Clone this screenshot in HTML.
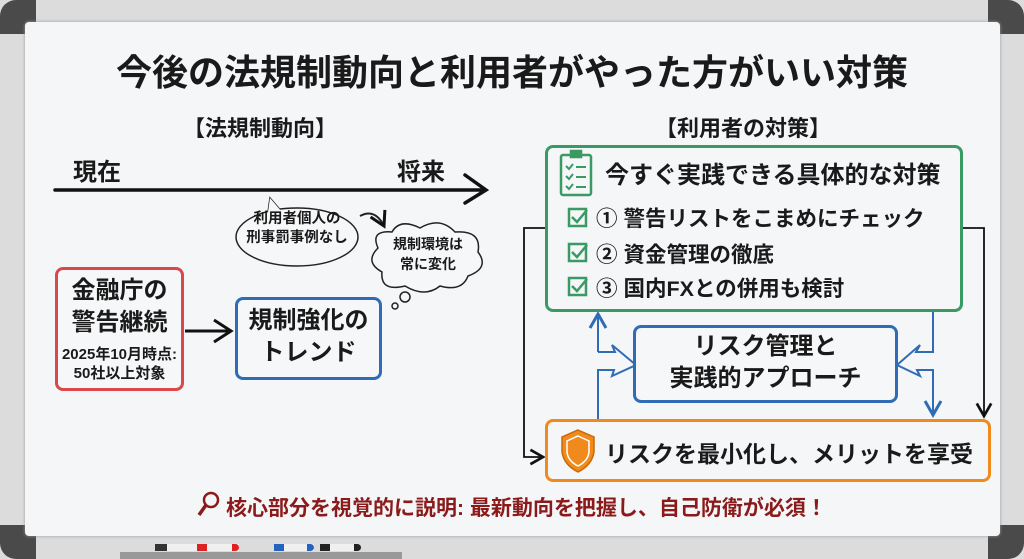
<!DOCTYPE html>
<html><head><meta charset="utf-8"><style>
*{margin:0;padding:0;box-sizing:border-box}
body{width:1024px;height:559px;overflow:hidden;background:#dcdcdc;font-family:"Liberation Sans","Noto Sans CJK JP",sans-serif;position:relative;font-weight:bold;color:#1a1a1a}
.a{position:absolute;white-space:nowrap}
.box{position:absolute;border-radius:8px;background:#f6f7f8}
</style></head><body>
<div class="a" style="left:0;top:0;width:36px;height:34px;background:#4a4a4a;border-radius:16px 0 0 0"></div>
<div class="a" style="right:0;top:0;width:36px;height:34px;background:#4a4a4a;border-radius:0 16px 0 0"></div>
<div class="a" style="left:0;bottom:0;width:36px;height:34px;background:#4a4a4a;border-radius:0 0 0 16px"></div>
<div class="a" style="right:0;bottom:0;width:36px;height:34px;background:#4a4a4a;border-radius:0 0 16px 0"></div>
<div class="a" style="left:25px;top:22px;width:975px;height:514px;background:#f4f6f8;border-radius:4px;box-shadow:0 0 3px #999"></div>
<div class="a" style="left:120px;top:552px;width:282px;height:7px;background:#999"></div>
<div class="a" style="left:155px;top:544px;width:80px;height:7px;background:#f0f0f0;border-radius:3px"></div>
<div class="a" style="left:155px;top:544px;width:12px;height:7px;background:#333"></div>
<div class="a" style="left:197px;top:544px;width:42px;height:7px;background:#f0f0f0"></div>
<div class="a" style="left:197px;top:544px;width:10px;height:7px;background:#d22"></div>
<div class="a" style="left:232px;top:544px;width:7px;height:7px;background:#d22;border-radius:0 4px 4px 0"></div>
<div class="a" style="left:274px;top:544px;width:40px;height:7px;background:#f0f0f0"></div>
<div class="a" style="left:274px;top:544px;width:10px;height:7px;background:#2563c0"></div>
<div class="a" style="left:307px;top:544px;width:7px;height:7px;background:#2563c0;border-radius:0 4px 4px 0"></div>
<div class="a" style="left:320px;top:544px;width:40px;height:7px;background:#f0f0f0"></div>
<div class="a" style="left:320px;top:544px;width:10px;height:7px;background:#222"></div>
<div class="a" style="left:354px;top:544px;width:7px;height:7px;background:#222;border-radius:0 4px 4px 0"></div>

<div class="a" style="left:0;width:1024px;top:44px;text-align:center;font-size:36px">今後の法規制動向と利用者がやった方がいい対策</div>
<div class="a" style="left:183px;top:111px;font-size:22px">【法規制動向】</div>
<div class="a" style="left:655px;top:111px;font-size:22px">【利用者の対策】</div>
<div class="a" style="left:73px;top:152px;font-size:24px">現在</div>
<div class="a" style="left:397px;top:152px;font-size:24px">将来</div>

<svg class="a" style="left:0;top:0" width="1024" height="559">
<defs>
<marker id="k" markerWidth="10" markerHeight="10" refX="8" refY="5" orient="auto"><path d="M1 1L8 5L1 9" fill="none" stroke="#111" stroke-width="1.5"/></marker>
<marker id="b" markerWidth="10" markerHeight="10" refX="8" refY="5" orient="auto"><path d="M1 1L8 5L1 9" fill="none" stroke="#2f6cb5" stroke-width="1.5"/></marker>
</defs>
<path d="M55 190L484 190M465 175L486 190L465 203" fill="none" stroke="#111" stroke-width="3.5" stroke-linecap="round"/>
<path d="M185 331L228 331M214 320L231 331L214 342" fill="none" stroke="#111" stroke-width="3"/>
<path d="M268 212L270 198L282 212" fill="#f6f7f8" stroke="#222" stroke-width="1.5"/>
<ellipse cx="297" cy="237" rx="61" ry="29" fill="#f6f7f8" stroke="#222" stroke-width="1.5"/>
<path d="M268 212L270 198L282 212" fill="#f6f7f8" stroke="none"/>
<path d="M360 216Q375 208 384 226" fill="none" stroke="#222" stroke-width="2" marker-end="url(#k)"/>
<path d="M378 248Q370 230 392 232Q400 218 420 228Q440 216 455 232Q482 230 478 252Q490 268 468 276Q462 292 440 286Q425 298 405 286Q380 292 382 272Q364 262 378 248Z" fill="#f6f7f8" stroke="#222" stroke-width="1.5"/>
<circle cx="405" cy="297" r="5" fill="none" stroke="#222" stroke-width="1.5"/>
<circle cx="395" cy="306" r="3" fill="none" stroke="#222" stroke-width="1.5"/>
<path d="M545 228L524 228L524 457L543 457" fill="none" stroke="#111" stroke-width="1.8" marker-end="url(#k)"/>
<path d="M962 228L984 228L984 416" fill="none" stroke="#111" stroke-width="1.8" marker-end="url(#k)"/>
<g fill="none" stroke="#2f6cb5" stroke-width="2">
<path d="M598 352L598 314" marker-end="url(#b)"/>
<path d="M598 352L615 352L612 345L636 365L612 376L614 370L598 370L598 419"/>
<path d="M933 311L933 352L916 352L920 345L897 365L920 376L917 370L933 370L933 415" marker-end="url(#b)"/>
</g>
<g transform="translate(561,151)" fill="none" stroke="#3a9a63" stroke-width="2.5">
<rect x="0" y="4" width="30" height="40" rx="2"/>
<rect x="10" y="0" width="10" height="6" fill="#3a9a63"/>
<path d="M5 15l3 3 4-5M5 25l3 3 4-5M5 35l3 3 4-5M15 16h10M15 26h10M15 36h10" stroke-width="2"/>
</g>
<g fill="none" stroke="#3a9a63" stroke-width="2.5">
<rect x="569" y="209" width="17" height="17"/><path d="M572 217l5 5 10-12"/>
<rect x="569" y="244" width="17" height="17"/><path d="M572 252l5 5 10-12"/>
<rect x="569" y="278" width="17" height="17"/><path d="M572 286l5 5 10-12"/>
</g>
<path d="M578 430L594 437L594 452Q592 465 578 472Q564 465 562 452L562 437Z" fill="#f08a1c" stroke="#c96a08" stroke-width="1.5"/>
<path d="M578 436L589 441L589 452Q588 461 578 466Q568 461 567 452L567 441Z" fill="none" stroke="#fff" stroke-width="1.5"/>
<circle cx="211" cy="500" r="7" fill="none" stroke="#8b1a1a" stroke-width="2.5"/>
<path d="M206 505L199 515" stroke="#8b1a1a" stroke-width="3.5"/>
</svg>

<div class="a" style="left:236px;top:210px;width:122px;text-align:center;font-size:14.5px;line-height:19px">利用者個人の<br>刑事罰事例なし</div>
<div class="a" style="left:376px;top:234px;width:104px;text-align:center;font-size:14px;line-height:20px">規制環境は<br>常に変化</div>

<div class="box" style="left:55px;top:267px;width:129px;height:124px;border:3px solid #d9484b"></div>
<div class="a" style="left:55px;top:275px;width:129px;text-align:center;font-size:24px;line-height:32px">金融庁の<br>警告継続</div>
<div class="a" style="left:55px;top:345px;width:129px;text-align:center;font-size:15px;line-height:19px">2025年10月時点:<br>50社以上対象</div>

<div class="box" style="left:235px;top:297px;width:147px;height:83px;border:3px solid #2f6cb5"></div>
<div class="a" style="left:235px;top:305px;width:147px;text-align:center;font-size:24px;line-height:32px">規制強化の<br>トレンド</div>

<div class="box" style="left:545px;top:145px;width:418px;height:167px;border:3px solid #3a9a63;background:transparent"></div>
<div class="a" style="left:605px;top:155px;font-size:24px">今すぐ実践できる具体的な対策</div>
<div class="a" style="left:596px;top:202px;font-size:21.5px">① 警告リストをこまめにチェック</div>
<div class="a" style="left:596px;top:238px;font-size:21.5px">② 資金管理の徹底</div>
<div class="a" style="left:596px;top:272px;font-size:21.5px">③ 国内FXとの併用も検討</div>

<div class="box" style="left:633px;top:325px;width:265px;height:78px;border:3px solid #2f6cb5"></div>
<div class="a" style="left:633px;top:331px;width:265px;text-align:center;font-size:24px;line-height:32px">リスク管理と<br>実践的アプローチ</div>

<div class="box" style="left:545px;top:419px;width:446px;height:63px;border:3px solid #f08a1c;background:transparent"></div>
<div class="a" style="left:605px;top:435px;font-size:23px">リスクを最小化し、メリットを享受</div>

<div class="a" style="left:226px;top:492px;font-size:21px;color:#8b1a1a">核心部分を視覚的に説明: 最新動向を把握し、自己防衛が必須！</div>
</body></html>
